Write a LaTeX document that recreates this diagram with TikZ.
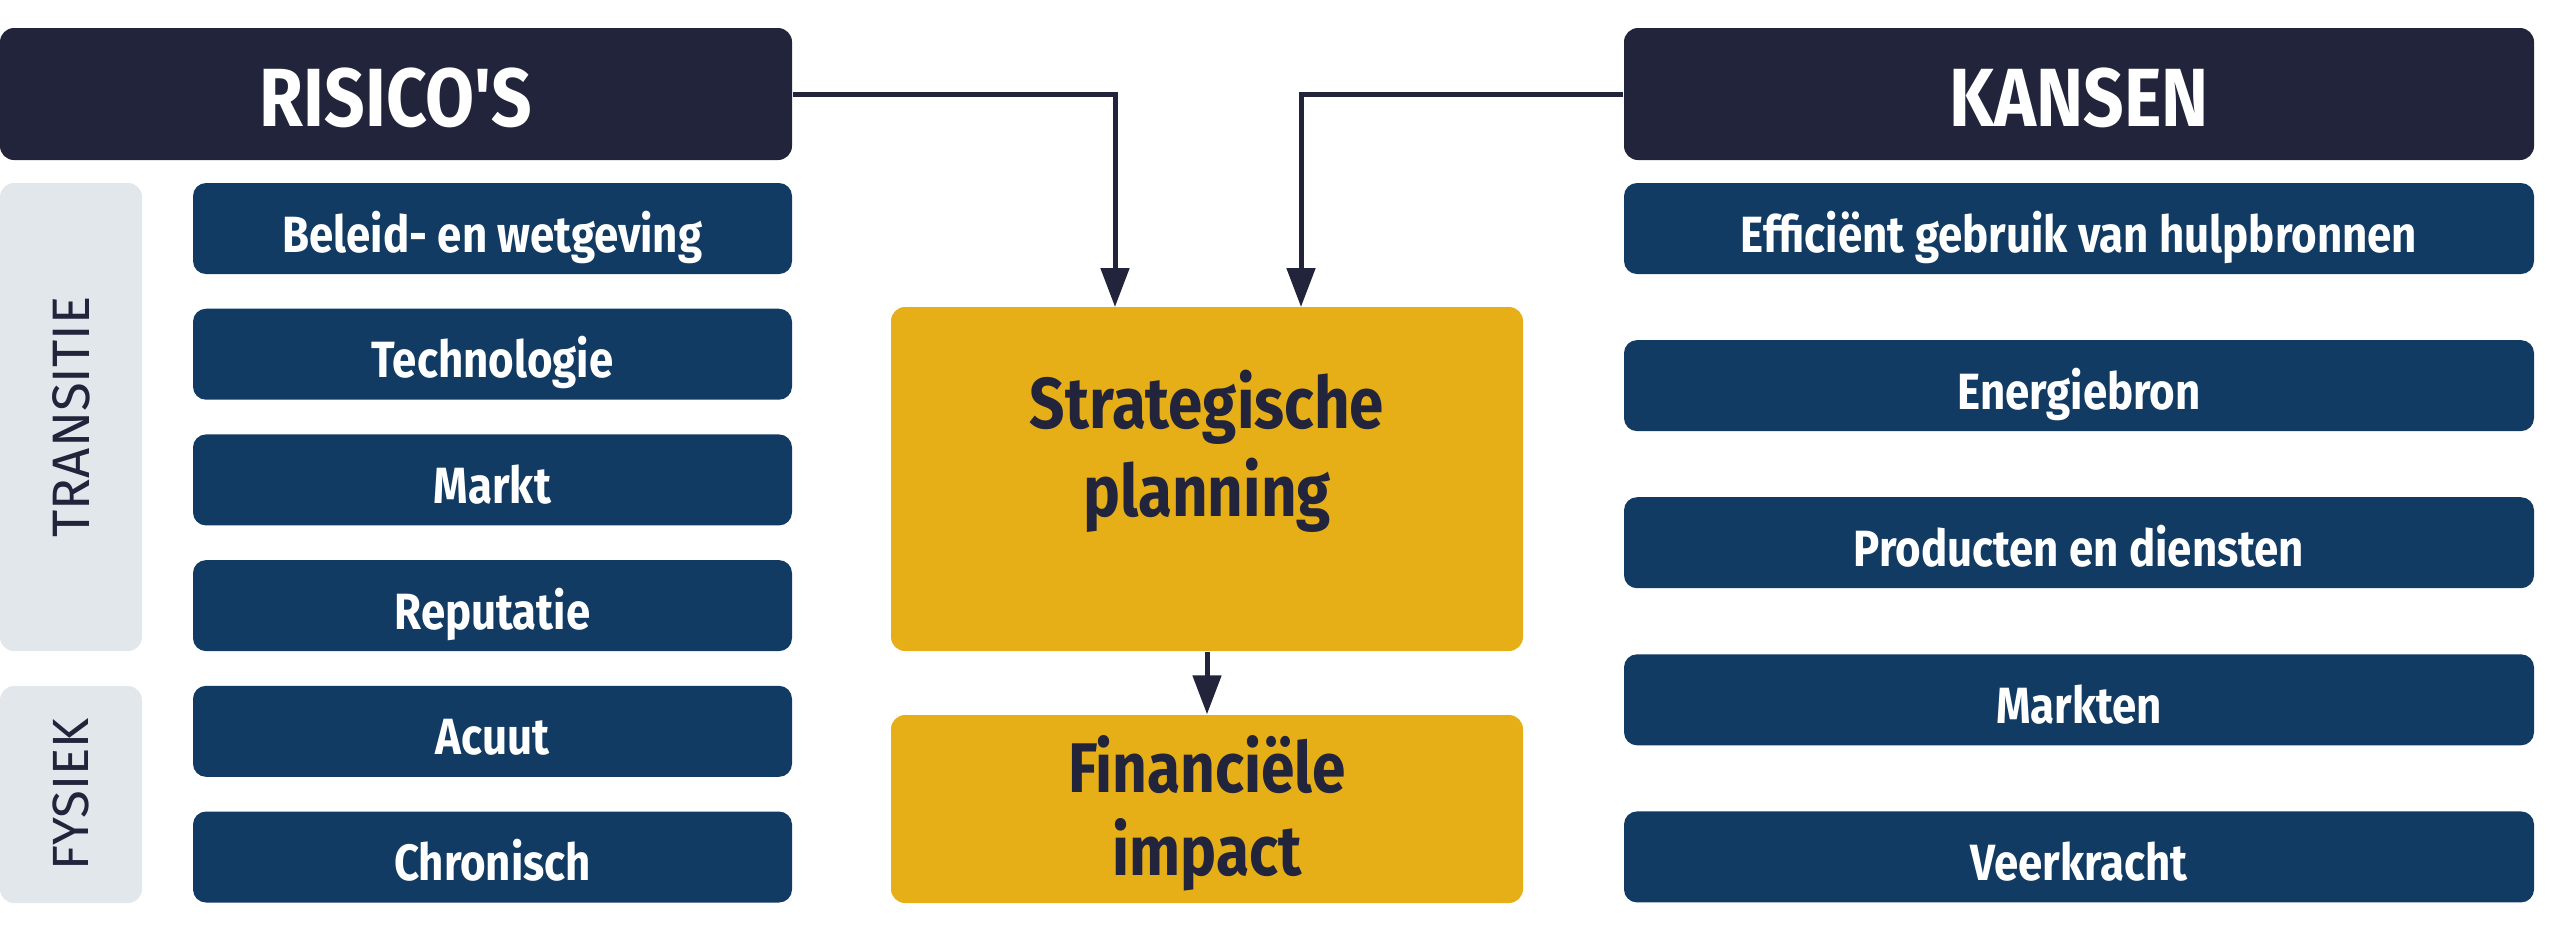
\documentclass[tikz,border=0pt]{standalone}
\usepackage{fontspec}
\usepackage{tikz}
\usetikzlibrary{arrows.meta}
\usetikzlibrary{calc}
\setmainfont{Fira Sans}
\newfontfamily\smalfont{Fira Sans}[FakeStretch=0.86]
\definecolor{donker}{HTML}{21243B}
\definecolor{blauw}{HTML}{123B64}
\definecolor{grijs}{HTML}{E2E7EC}
\definecolor{geel}{HTML}{E6AF18}

\begin{document}
\begin{tikzpicture}[
            hoofd-node/.style={rectangle,rounded corners=0.14cm,fill=donker,text=white,
                minimum height=1.32cm,text height=0.64cm,text depth=0cm,
                font=\smalfont\bfseries\fontsize{23.5}{27}\selectfont},
            item-node/.style={rectangle,rounded corners=0.13cm,fill=blauw,text=white,
                minimum height=0.91cm,text height=0.47cm,text depth=0cm,
                font=\smalfont\bfseries\fontsize{14.5}{17}\selectfont},
            kant-node/.style={rectangle,rounded corners=0.14cm,fill=grijs,minimum width=1.42cm},
            kant-tekst/.style={rotate=90,text=donker,font=\fontsize{15}{18}\selectfont},
            geel-node/.style={rectangle,rounded corners=0.14cm,fill=geel,minimum width=6.32cm},
            geel-tekst/.style={text=donker,align=center,font=\smalfont\bfseries\fontsize{20.5}{25}\selectfont},
            pijl/.style={draw=donker,line width=0.05cm,-{Triangle[length=0.39cm,width=0.28cm]}},
        ]
            \useasboundingbox (0,0) rectangle (25.6,-9.37);

            % koppen
            \node[hoofd-node,minimum width=7.92cm] (risicos) at (3.96,-0.94) {RISICO'S};
            \node[hoofd-node,minimum width=9.10cm] (kansen) at (20.79,-0.94) {KANSEN};

            % zijlabels
            \node[kant-node,minimum height=4.68cm] (transitie) at (0.71,-4.17) {};
            \node[kant-tekst] (transitie-tekst) at (transitie) {TRANSITIE};
            \node[kant-node,minimum height=2.17cm] (fysiek) at (0.71,-7.945) {};
            \node[kant-tekst,font=\fontsize{14.5}{18}\selectfont] (fysiek-tekst) at (fysiek) {FYSIEK};

            % risico's
            \foreach \tekst [count=\i] in {Beleid- en wetgeving,Technologie,Markt,Reputatie,Acuut,Chronisch}
                \node[item-node,minimum width=5.99cm] (r\i) at (4.925,{-2.285-1.257*(\i-1)}) {\tekst};

            % kansen
            \foreach \tekst [count=\i] in {Efficiënt gebruik van hulpbronnen,Energiebron,Producten en diensten,Markten,Veerkracht}
                \node[item-node,minimum width=9.10cm] (k\i) at (20.79,{-2.285-1.571*(\i-1)}) {\tekst};

            % midden
            \node[geel-node,minimum height=3.44cm] (strategie) at (12.07,-4.79) {};
            \node[geel-tekst] (strategie-tekst) at ($(strategie)+(0,0.28)$) {Strategische\\planning};
            \node[geel-node,minimum height=1.88cm] (financieel) at (12.07,-8.09) {};
            \node[geel-tekst,font=\smalfont\bfseries\fontsize{20}{23.5}\selectfont] (financieel-tekst)
                at ($(financieel)+(0,-0.04)$) {Financiële\\impact};

            \coordinate (inL) at (11.15,-3.07);
            \coordinate (inR) at (13.01,-3.07);

            \draw[pijl] (risicos.east) -| (inL);
            \draw[pijl] (kansen.west) -| (inR);
            \draw[pijl] (strategie) -- (financieel);
        \end{tikzpicture}
\end{document}
